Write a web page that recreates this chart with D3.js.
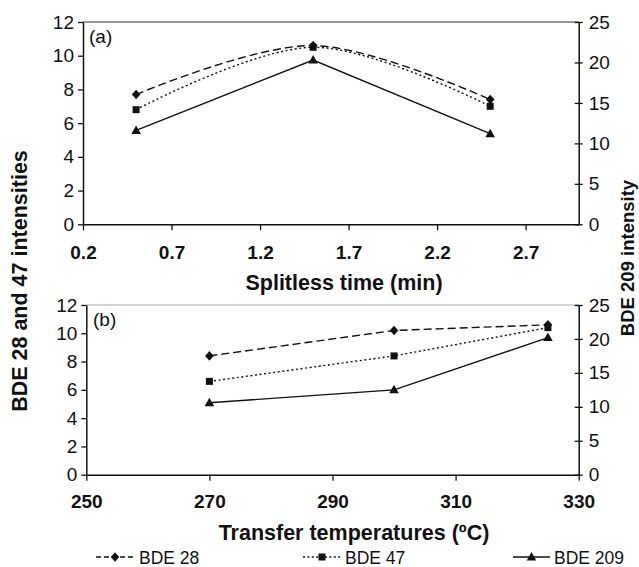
<!DOCTYPE html>
<html>
<head>
<meta charset="utf-8">
<script src="https://cdn.jsdelivr.net/npm/d3@7/dist/d3.min.js"></script>
<style>
  html, body { margin: 0; padding: 0; background: #fff; }
  svg { display: block; font-family: "Liberation Sans", Arial, sans-serif; }
</style>
</head>
<body>
<svg id="chart" width="639" height="567"></svg>
<script>
// Panel (a): splitless time (min)
const splitlessTimes = [0.5, 1.5, 2.5];
const splitBDE28  = [7.7, 10.6, 7.4];
const splitBDE47  = [6.8, 10.5, 7.0];
const splitBDE209 = [11.6, 20.3, 11.2];

// Panel (b): transfer temperature (ºC)
const transferTemps = [270, 300, 325];
const tempBDE28  = [8.4, 10.2, 10.6];
const tempBDE47  = [6.6, 8.4, 10.4];
const tempBDE209 = [10.6, 12.5, 20.2];

// Tick values
const leftTicks = [0, 2, 4, 6, 8, 10, 12];
const rightTicks = [0, 5, 10, 15, 20, 25];
const splitTicks = [0.2, 0.7, 1.2, 1.7, 2.2, 2.7];
const tempTicks = [250, 270, 290, 310, 330];

const seriesNames = ["BDE 28", "BDE 47", "BDE 209"];

const svg = d3.select("#chart");
svg.append("rect").attr("width", 639).attr("height", 567).attr("fill", "#fff");

const INK = "#111";
const dashOf = { "BDE 28": "8,4", "BDE 47": "2,2.6", "BDE 209": null };
const legendDash = { "BDE 28": "5,3", "BDE 47": "2,2.4", "BDE 209": null };

function marker(g, name, x, y) {
  if (name === "BDE 28") {
    g.append("path").attr("d", `M${x},${y-4.8}L${x+4.3},${y}L${x},${y+4.8}L${x-4.3},${y}Z`).attr("fill", INK);
  } else if (name === "BDE 47") {
    g.append("rect").attr("x", x-3.5).attr("y", y-3.5).attr("width", 7).attr("height", 7).attr("fill", INK);
  } else {
    g.append("path").attr("d", `M${x},${y-5}L${x+4.8},${y+3.5}L${x-4.8},${y+3.5}Z`).attr("fill", INK);
  }
}

function panel(cfg) {
  const g = svg.append("g");
  const x = d3.scaleLinear().domain(cfg.xDomain).range([cfg.left, cfg.right]);
  const yL = d3.scaleLinear().domain([0, 12]).range([cfg.bottom, cfg.top]);
  const yR = d3.scaleLinear().domain([0, 25]).range([cfg.bottom, cfg.top]);

  // top border
  g.append("line").attr("x1", cfg.left).attr("x2", cfg.right)
    .attr("y1", cfg.top).attr("y2", cfg.top)
    .attr("stroke", cfg.topColor).attr("stroke-width", 1.2);

  // left axis
  const gl = g.append("g").attr("transform", `translate(${cfg.left},0)`)
    .call(d3.axisLeft(yL).tickValues(leftTicks).tickSize(5).tickSizeOuter(0).tickPadding(4).tickFormat(d3.format("d")));
  // right axis with crossing ticks
  const gr = g.append("g").attr("transform", `translate(${cfg.right},0)`)
    .call(d3.axisRight(yR).tickValues(rightTicks).tickSize(4).tickSizeOuter(0).tickPadding(6).tickFormat(d3.format("d")));
  gr.selectAll(".tick line").attr("x1", -4).attr("x2", 4);
  // bottom axis
  const gb = g.append("g").attr("transform", `translate(0,${cfg.bottom})`)
    .call(d3.axisBottom(x).tickValues(cfg.xTicks).tickSize(6).tickSizeOuter(0).tickPadding(cfg.xPad).tickFormat(cfg.xFormat));

  [gl, gr, gb].forEach(a => {
    a.select(".domain").attr("stroke", INK).attr("stroke-width", 1.5);
    a.selectAll(".tick line").attr("stroke", INK).attr("stroke-width", 1.3);
    a.selectAll("text").attr("fill", INK).attr("font-family", "Liberation Sans, Arial, sans-serif");
  });
  gl.selectAll("text").attr("font-size", 19);
  gr.selectAll("text").attr("font-size", 19);
  gb.selectAll("text").attr("font-size", 19).attr("font-weight", "bold");

  // series
  const data = [
    { name: "BDE 28", vals: cfg.s28, y: yL, curve: cfg.smooth ? d3.curveCatmullRom.alpha(0.5) : d3.curveLinear },
    { name: "BDE 47", vals: cfg.s47, y: yL, curve: cfg.smooth ? d3.curveCatmullRom.alpha(0.5) : d3.curveLinear },
    { name: "BDE 209", vals: cfg.s209, y: yR, curve: d3.curveLinear }
  ];
  data.forEach(s => {
    const pts = cfg.xs.map((xv, i) => [x(xv), s.y(s.vals[i])]);
    g.append("path").attr("d", d3.line().curve(s.curve)(pts))
      .attr("fill", "none").attr("stroke", INK).attr("stroke-width", 1.4)
      .attr("stroke-dasharray", dashOf[s.name]);
    pts.forEach(p => marker(g, s.name, p[0], p[1]));
  });

  // panel tag
  g.append("text").attr("x", cfg.tagX).attr("y", cfg.tagY)
    .attr("font-size", 19).attr("fill", INK).text(cfg.tag);

  // x title
  g.append("text").attr("x", cfg.titleX).attr("y", cfg.titleY)
    .attr("text-anchor", "middle").attr("font-size", 21.5).attr("font-weight", "bold")
    .attr("fill", INK).text(cfg.title);
}

panel({
  xDomain: [0.2, 3.0], left: 83, right: 578.7, top: 22, bottom: 224.3,
  xTicks: splitTicks, xFormat: d3.format(".1f"), xPad: 15,
  xs: splitlessTimes, s28: splitBDE28, s47: splitBDE47, s209: splitBDE209,
  smooth: true, topColor: "#333",
  tag: "(a)", tagX: 89, tagY: 43,
  title: "Splitless time (min)", titleX: 344, titleY: 290
});

panel({
  xDomain: [250, 330], left: 86.3, right: 578.7, top: 305, bottom: 474.7,
  xTicks: tempTicks, xFormat: d3.format("d"), xPad: 14,
  xs: transferTemps, s28: tempBDE28, s47: tempBDE47, s209: tempBDE209,
  smooth: false, topColor: "#aaa",
  tag: "(b)", tagX: 93, tagY: 326,
  title: "Transfer temperatures (ºC)", titleX: 354, titleY: 540
});

// shared y titles
svg.append("text")
  .attr("transform", "translate(27,281) rotate(-90)")
  .attr("text-anchor", "middle").attr("font-size", 21.5).attr("font-weight", "bold")
  .attr("fill", INK).text("BDE 28 and 47 intensities");
svg.append("text")
  .attr("transform", "translate(634,258) rotate(-90)")
  .attr("text-anchor", "middle").attr("font-size", 18.5).attr("font-weight", "bold")
  .attr("fill", INK).text("BDE 209 intensity");

// legend
const legendItems = [
  { name: seriesNames[0], x0: 96, x1: 134, text: 139 },
  { name: seriesNames[1], x0: 303, x1: 341, text: 345 },
  { name: seriesNames[2], x0: 513, x1: 550, text: 554 }
];
const lg = svg.append("g");
const ly = 557;
legendItems.forEach(it => {
  lg.append("line").attr("x1", it.x0).attr("x2", it.x1).attr("y1", ly).attr("y2", ly)
    .attr("stroke", INK).attr("stroke-width", 1.3).attr("stroke-dasharray", legendDash[it.name]);
  marker(lg, it.name, (it.x0 + it.x1) / 2, ly);
  lg.append("text").attr("x", it.text).attr("y", ly + 6.5)
    .attr("font-size", 17.5).attr("fill", INK).text(it.name);
});
</script>
</body>
</html>
